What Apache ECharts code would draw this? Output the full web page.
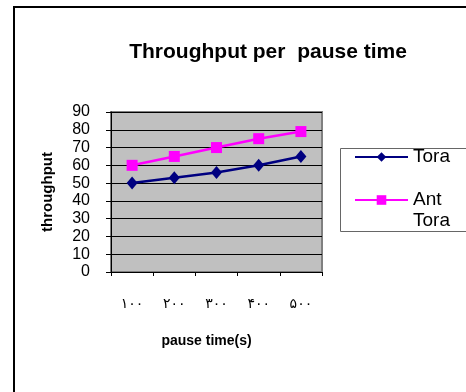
<!DOCTYPE html>
<html><head><meta charset="utf-8">
<script src="https://cdn.jsdelivr.net/npm/echarts@6/dist/echarts.min.js"></script>
<style>html,body{margin:0;padding:0;background:#fff}#c{width:466px;height:392px}</style>
</head><body><div id="c"></div>
<script>
const categories = ['۱۰۰', '۲۰۰', '۳۰۰', '۴۰۰', '۵۰۰'];
const toraValues = [50, 53, 56, 60, 65];
const antToraValues = [60, 65, 70, 75, 79];
const yTicks = { min: 0, max: 90, interval: 10 };

const chart = echarts.init(document.getElementById('c'), null, { renderer: 'canvas' });
const font = "'Liberation Sans', Arial, 'DejaVu Sans', sans-serif";
chart.setOption({
  animation: false,
  backgroundColor: '#fff',
  title: {
    text: 'Throughput per  pause time',
    left: 268, top: 42, textAlign: 'center', padding: 0,
    textStyle: { fontFamily: font, fontWeight: 'bold', fontSize: 21, color: '#000' }
  },
  graphic: [
    { type: 'rect', shape: { x: 14, y: 7, width: 520, height: 440 }, style: { fill: 'none', stroke: '#000', lineWidth: 2 }, silent: true, z: 0 },
    { type: 'rect', shape: { x: 340.5, y: 148.5, width: 200, height: 83 }, style: { fill: 'none', stroke: '#666', lineWidth: 1 }, silent: true, z: 0 }
  ],
  grid: {
    left: 111, top: 112, width: 211, height: 160,
    show: true, backgroundColor: '#C0C0C0', borderColor: '#808080', borderWidth: 2
  },
  legend: {
    orient: 'vertical', left: 354, top: 146.5, padding: 0, itemWidth: 53, itemHeight: 12, itemGap: 1,
    textStyle: { fontFamily: font, fontSize: 19, color: '#000', lineHeight: 21 },
    formatter: function (name) { return name === 'Ant Tora' ? ' \nAnt\nTora' : name; },
    data: ['Tora', 'Ant Tora']
  },
  xAxis: {
    type: 'category', data: categories, boundaryGap: true,
    name: 'pause time(s)', nameLocation: 'middle', nameGap: 62,
    nameTextStyle: { fontFamily: font, fontWeight: 'bold', fontSize: 14, color: '#000', padding: [0, 20, 0, 0] },
    axisLine: { lineStyle: { color: '#000', width: 1 } },
    axisTick: { show: true, length: 4, inside: false, lineStyle: { color: '#000' } },
    axisLabel: { margin: 25, fontFamily: "'DejaVu Sans', 'Noto Sans', sans-serif", fontSize: 14, color: '#000' },
    splitLine: { show: false }
  },
  yAxis: {
    type: 'value', min: yTicks.min, max: yTicks.max, interval: yTicks.interval,
    name: 'throughput', nameLocation: 'middle', nameGap: 55.5, nameRotate: 90,
    nameTextStyle: { fontFamily: font, fontWeight: 'bold', fontSize: 15, color: '#000' },
    axisLine: { show: true, lineStyle: { color: '#000', width: 1 } },
    axisTick: { show: true, length: 5, lineStyle: { color: '#000' } },
    axisLabel: { margin: 21, fontFamily: font, fontSize: 16, color: '#000' },
    splitLine: { show: true, lineStyle: { color: '#000', width: 1 } }
  },
  series: [
    {
      name: 'Tora', type: 'line', data: toraValues,
      symbol: 'diamond', symbolSize: [11, 13],
      lineStyle: { color: '#000080', width: 2.5 },
      itemStyle: { color: '#000080' }
    },
    {
      name: 'Ant Tora', type: 'line', data: antToraValues,
      symbol: 'rect', symbolSize: 11,
      lineStyle: { color: '#FF00FF', width: 2.5 },
      itemStyle: { color: '#FF00FF' }
    }
  ]
});
</script></body></html>
